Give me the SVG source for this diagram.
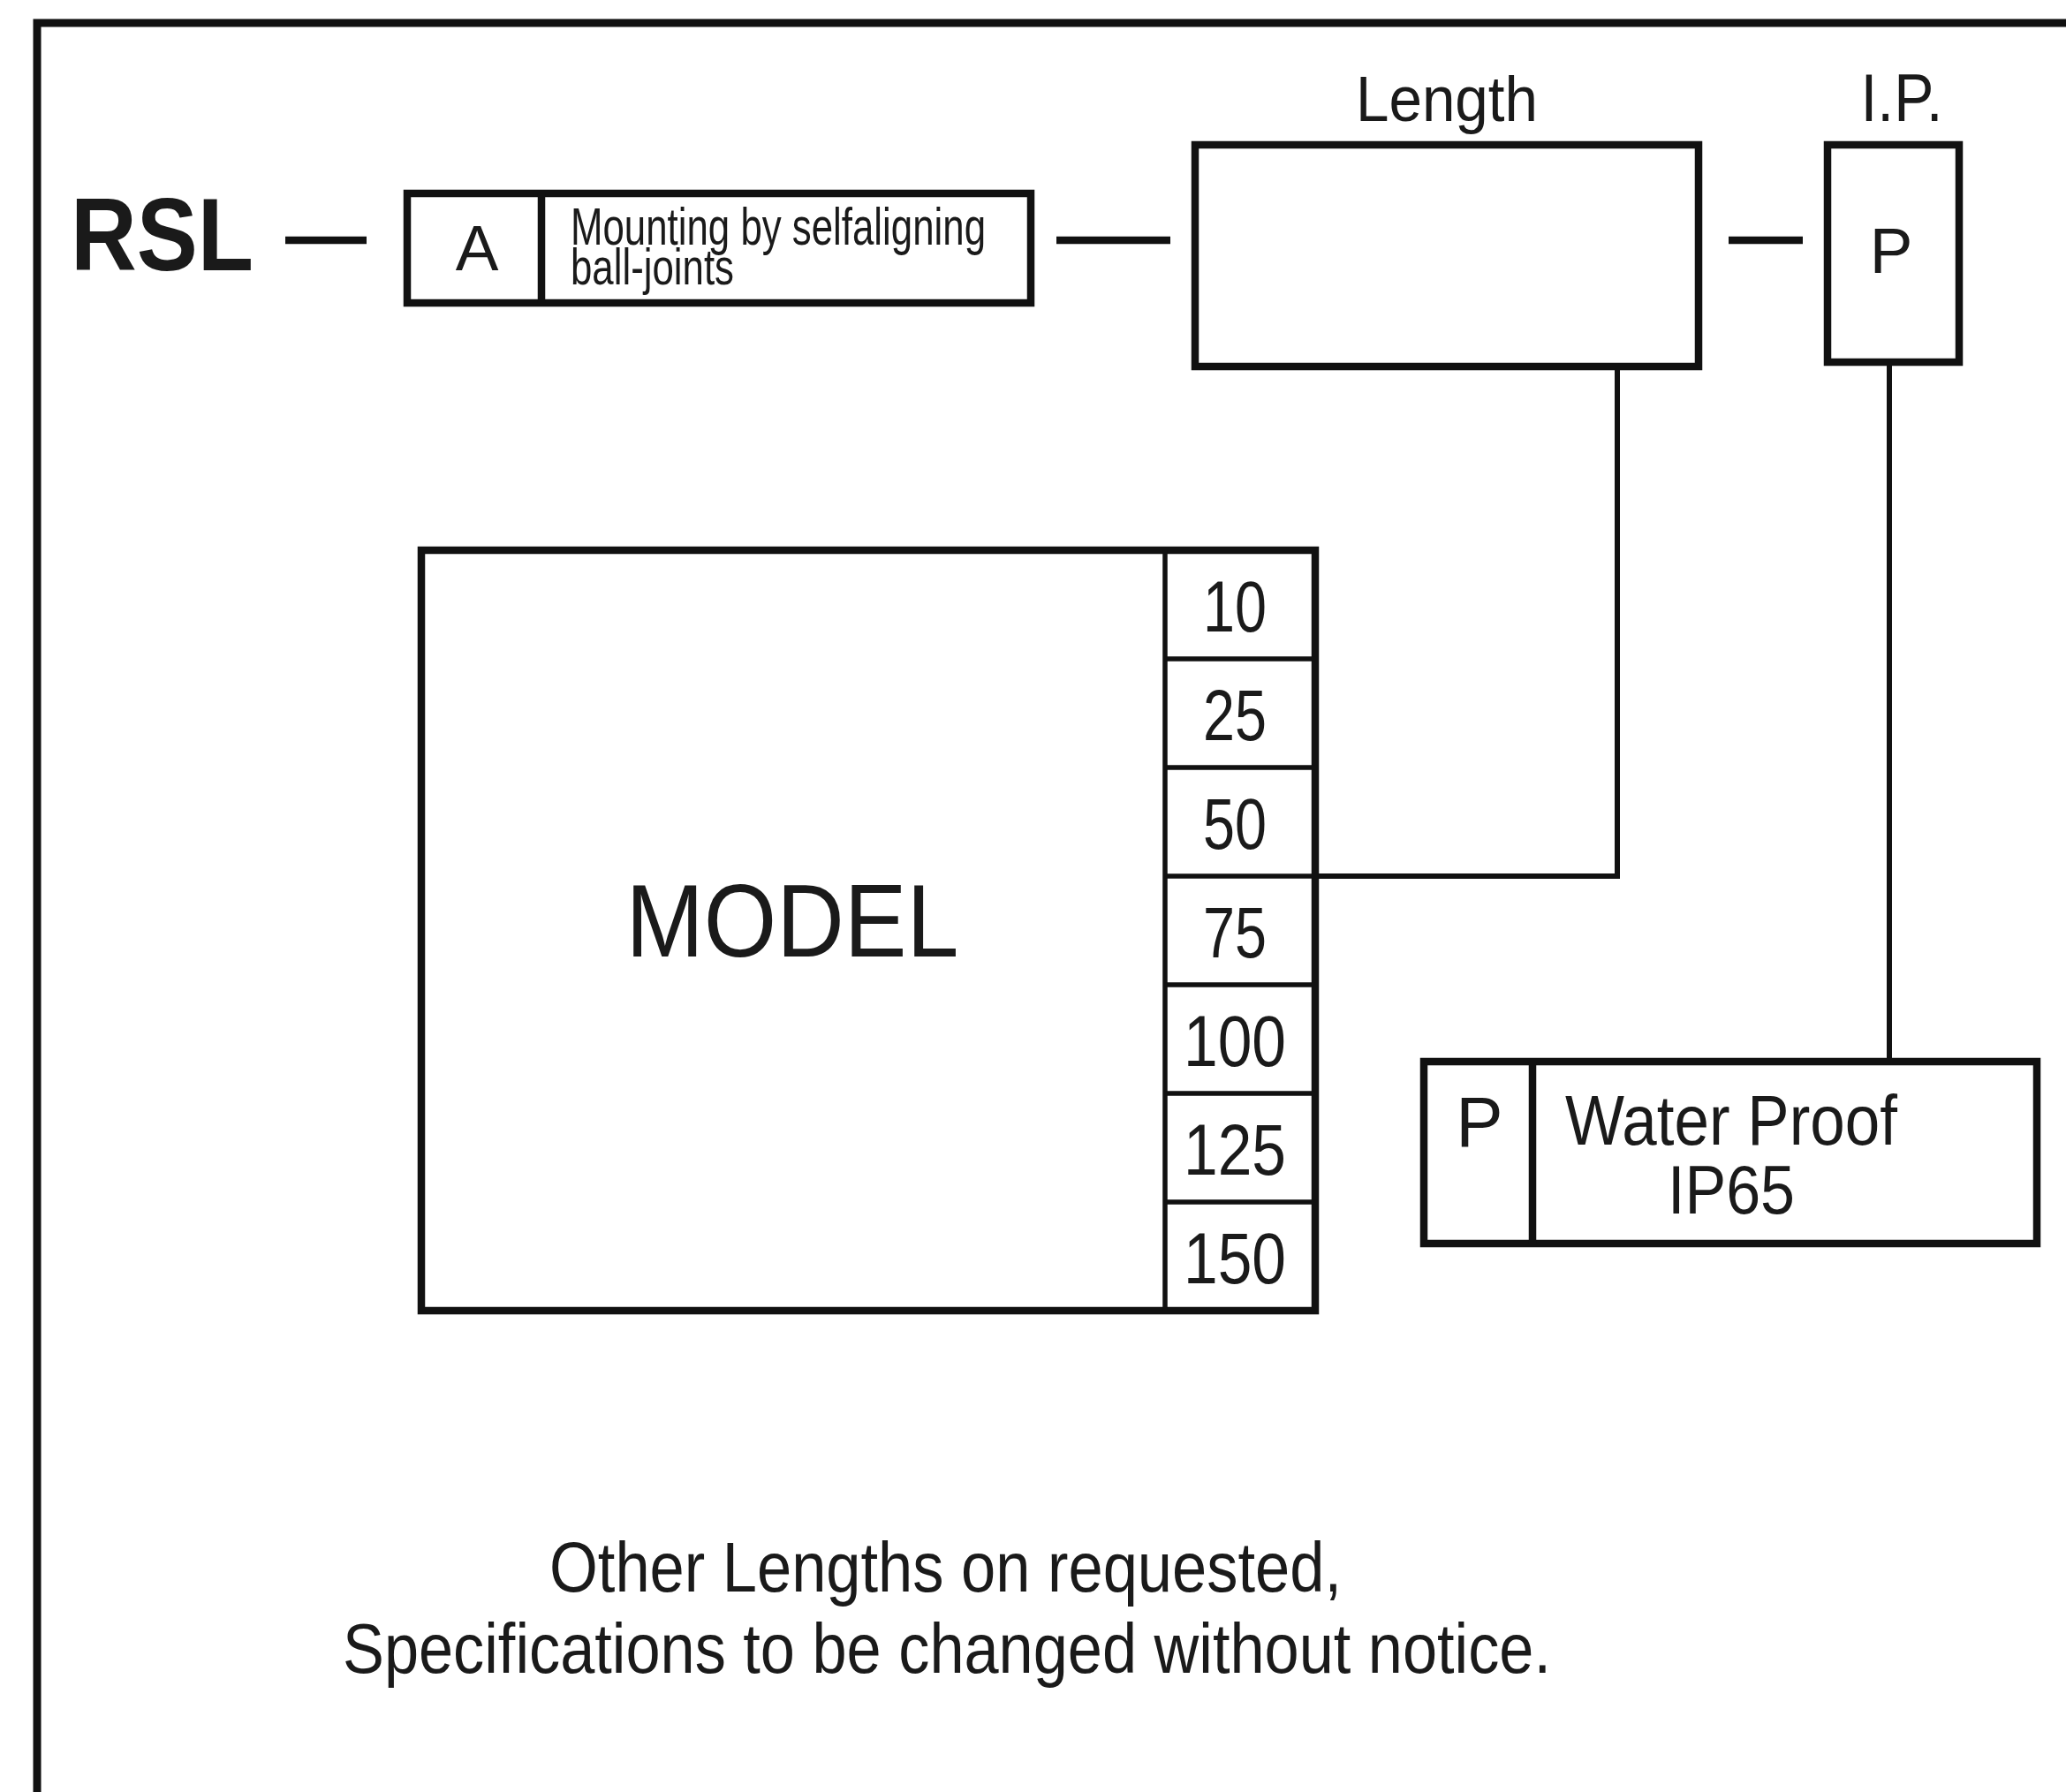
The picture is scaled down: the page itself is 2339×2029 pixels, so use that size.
<svg xmlns="http://www.w3.org/2000/svg" width="2339" height="2029" viewBox="0 0 2339 2029">
<style>
text{font-family:"Liberation Sans",Arial,sans-serif;fill:#1a1a1a}
.box{fill:none;stroke:#111;stroke-width:8.5}
.thin{fill:none;stroke:#111;stroke-width:5.5}
.dash{stroke:#111;stroke-width:8.5;fill:none}
.conn{stroke:#111;stroke-width:6;fill:none}
.c{text-anchor:middle}
.num{font-size:82px;text-anchor:middle}
</style>
<rect width="2339" height="2029" fill="#fff"/>
<path d="M42,2040 V26 H2350" fill="none" stroke="#111" stroke-width="9"/>
<g id="rsl"><text x="80" y="306" font-size="116" font-weight="bold" textLength="207" lengthAdjust="spacingAndGlyphs">RSL</text></g>
<g id="mounting">
<rect class="box" x="461" y="219" width="706" height="124"/>
<line class="box" x1="613" y1="219" x2="613" y2="343"/>
<text class="c" x="540" y="306" font-size="73">A</text>
<text x="646" y="277" font-size="60" textLength="470" lengthAdjust="spacingAndGlyphs">Mounting by selfaligning</text>
<text x="646" y="322" font-size="58" textLength="185" lengthAdjust="spacingAndGlyphs">ball-joints</text>
</g>
<g id="length">
<text class="c" x="1638" y="137" font-size="73" textLength="206" lengthAdjust="spacingAndGlyphs">Length</text>
<rect class="box" x="1353" y="164" width="570" height="251"/>
</g>
<g id="ip">
<text class="c" x="2153" y="137" font-size="76" textLength="93" lengthAdjust="spacingAndGlyphs">I.P.</text>
<rect class="box" x="2069" y="164" width="149" height="246"/>
<text class="c" x="2141" y="309" font-size="73">P</text>
</g>
<g id="model">
<rect class="box" x="477" y="623" width="1012" height="861"/>
<line class="thin" x1="1319" y1="623" x2="1319" y2="1484"/>
<line class="thin" x1="1319" y1="746" x2="1489" y2="746"/>
<line class="thin" x1="1319" y1="869" x2="1489" y2="869"/>
<line class="thin" x1="1319" y1="992" x2="1489" y2="992"/>
<line class="thin" x1="1319" y1="1115" x2="1489" y2="1115"/>
<line class="thin" x1="1319" y1="1238" x2="1489" y2="1238"/>
<line class="thin" x1="1319" y1="1361" x2="1489" y2="1361"/>
<text class="c" x="897" y="1083" font-size="117" textLength="377" lengthAdjust="spacingAndGlyphs">MODEL</text>
<text class="num" x="1398" y="715" textLength="72" lengthAdjust="spacingAndGlyphs">10</text>
<text class="num" x="1398" y="838" textLength="72" lengthAdjust="spacingAndGlyphs">25</text>
<text class="num" x="1398" y="961" textLength="72" lengthAdjust="spacingAndGlyphs">50</text>
<text class="num" x="1398" y="1084" textLength="72" lengthAdjust="spacingAndGlyphs">75</text>
<text class="num" x="1398" y="1207" textLength="116" lengthAdjust="spacingAndGlyphs">100</text>
<text class="num" x="1398" y="1330" textLength="116" lengthAdjust="spacingAndGlyphs">125</text>
<text class="num" x="1398" y="1453" textLength="116" lengthAdjust="spacingAndGlyphs">150</text>
</g>
<g id="waterproof">
<rect class="box" x="1612" y="1202" width="694" height="206"/>
<line class="box" x1="1735" y1="1202" x2="1735" y2="1408"/>
<text class="c" x="1675" y="1298" font-size="80">P</text>
<text x="1772" y="1296" font-size="80" textLength="376" lengthAdjust="spacingAndGlyphs">Water Proof</text>
<text x="1888" y="1374" font-size="78" textLength="144" lengthAdjust="spacingAndGlyphs">IP65</text>
</g>
<g id="footer">
<text x="622" y="1802" font-size="80" textLength="897" lengthAdjust="spacingAndGlyphs">Other Lengths on requested,</text>
<text x="388" y="1894" font-size="80" textLength="1368" lengthAdjust="spacingAndGlyphs">Specifications to be changed without notice.</text>
</g>
<g id="connectors">
<line class="dash" x1="323" y1="272" x2="415" y2="272"/>
<line class="dash" x1="1196" y1="272" x2="1325" y2="272"/>
<line class="dash" x1="1957" y1="272" x2="2041" y2="272"/>
<path class="conn" d="M1831,415 V992 H1489"/>
<path class="conn" d="M2139,410 V1202"/>
</g>
</svg>
